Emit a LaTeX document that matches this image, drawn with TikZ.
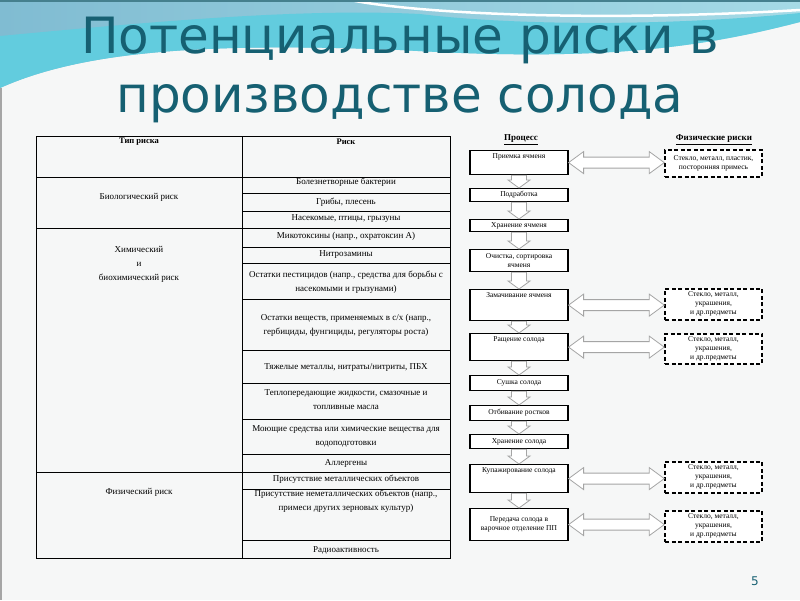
\documentclass[tikz,border=0pt]{standalone}
\usepackage{fontspec}
\setmainfont{Liberation Serif}
\newfontfamily\titlefont{DejaVu Sans}
\usetikzlibrary{calc}

\definecolor{titleteal}{RGB}{22,96,114}
\definecolor{wavedark}{RGB}{128,188,210}
\definecolor{wavelight}{RGB}{165,218,230}
\definecolor{wavecyan}{RGB}{98,204,222}
\definecolor{slidebg}{RGB}{246,247,247}
\definecolor{arrowgray}{RGB}{165,165,165}

\newcommand\tabfont{\fontsize{9}{14}\selectfont}
\newcommand\flowfont{\fontsize{7.5}{9}\selectfont}

% hollow block arrows between boxes
\newcommand\blockdown[2]{%
  \draw[downarr] ($(#1.south)+(-7.5,0)$) -- ($(#2.north)+(-7.5,-8)$) -- ($(#2.north)+(-11,-8)$)
    -- (#2.north) -- ($(#2.north)+(11,-8)$) -- ($(#2.north)+(7.5,-8)$) -- ($(#1.south)+(7.5,0)$) -- cycle;}
\newcommand\blockboth[2]{%
  \draw[sidearr] (#1.east) -- ++(15,-11) -- ++(0,5.5) -- ($(#2.west|-#1.east)+(-15,-5.5)$) -- ++(0,-5.5)
    -- (#2.west|-#1.east) -- ++(-15,11) -- ++(0,-5.5) -- ($(#1.east)+(15,5.5)$) -- ++(0,5.5) -- cycle;}

\begin{document}
\begin{tikzpicture}[
                x=1pt, y=-1pt,
                titletext/.style = {font=\titlefont\fontsize{50}{60}\selectfont, text=titleteal, inner sep=0pt},
                tabline/.style = {line width=0.9pt, black},
                cell/.style = {font=\tabfont, align=center, inner sep=0pt},
                head/.style = {font=\fontsize{9}{10}\selectfont\bfseries, inner sep=0pt},
                proc/.style = {draw, line width=1.2pt, fill=white, minimum width=98pt, anchor=north,
                               font=\flowfont, align=center, inner sep=0.5pt},
                risk/.style = {draw, line width=1.5pt, dash pattern=on 4pt off 2.5pt, fill=white,
                               minimum width=97pt, anchor=north, font=\flowfont, align=center, inner sep=0.5pt},
                toptext/.style = {anchor=north, font=\flowfont, inner sep=3pt},
                downarr/.style = {draw=arrowgray, fill=white, line width=0.8pt, line join=miter},
                sidearr/.style = {draw=arrowgray, fill=white, line width=0.8pt, line join=miter},
            ]
            \useasboundingbox (0,0) rectangle (800,600);
            % slide background
            \fill[slidebg] (0,0) rectangle (800,600);
            \shade[left color=wavedark, right color=wavelight] (0,0) -- (800,0) -- (800,22)
                .. controls (700,48) and (600,62) .. (400,50) .. controls (200,42) and (80,52) .. (0,88) -- cycle;
            \fill[wavecyan] (0,88) .. controls (80,52) and (200,42) .. (400,50) .. controls (600,62) and (700,48) .. (800,22)
                -- (800,13) .. controls (650,28) and (500,24) .. (420,14) .. controls (300,8) and (150,22) .. (0,36) -- cycle;
            \draw[white, line width=2.5pt] (350,0) .. controls (420,14) and (600,22) .. (800,10);
            \fill[titleteal!80] (0,0) rectangle (800,2);
            \draw[gray!70, line width=1.5pt] (0.75,88) -- (0.75,600);

            \node[titletext, anchor=base] (title1) at (400,53) {Потенциальные риски в};
            \node[titletext, anchor=base] (title2) at (400,112) {производстве солода};

            % table of risks
            \draw[tabline] (36,136) rectangle (450,558);
            \draw[tabline] (242,136) -- (242,558);
            \foreach \y in {177,228,472} \draw[tabline] (36,\y) -- (450,\y);
            \foreach \y in {193,211,247,263,299,350,383,419,454,489,540} \draw[tabline] (242,\y) -- (450,\y);

            \node[cell, font=\fontsize{8.5}{10}\selectfont\bfseries] (hType) at (139,142) {Тип риска};
            \node[cell, font=\fontsize{8.5}{10}\selectfont\bfseries] (hRisk) at (346,142) {Риск};
            \node[cell] (bio) at (139,197) {Биологический риск};
            \node[cell] (chem) at (139,264) {Химический\\и\\биохимический риск};
            \node[cell] (phys) at (139,492) {Физический риск};

            \node[cell] (b1) at (346,182) {Болезнетворные бактерии};
            \node[cell] (b2) at (346,202) {Грибы, плесень};
            \node[cell] (b3) at (346,219) {Насекомые, птицы, грызуны};
            \node[cell] (c1) at (346,236) {Микотоксины (напр., охратоксин А)};
            \node[cell] (c2) at (346,255) {Нитрозамины};
            \node[cell] (c3) at (346,282) {Остатки пестицидов (напр., средства для борьбы с\\насекомыми и грызунами)};
            \node[cell] (c4) at (346,325) {Остатки веществ, применяемых в с/х (напр.,\\гербициды, фунгициды, регуляторы роста)};
            \node[cell] (c5) at (346,367) {Тяжелые металлы, нитраты/нитриты, ПБХ};
            \node[cell] (c6) at (346,400) {Теплопередающие жидкости, смазочные и\\топливные масла};
            \node[cell] (c7) at (346,436) {Моющие средства или химические вещества для\\водоподготовки};
            \node[cell] (c8) at (346,463) {Аллергены};
            \node[cell] (f1) at (346,479) {Присутствие металлических объектов};
            \node[cell] (f2) at (346,501) {Присутствие неметаллических объектов (напр.,\\примеси других зерновых культур)};
            \node[cell] (f3) at (346,550) {Радиоактивность};

            % process flow
            \node[head] (hProc) at (521,140) {\underline{Процесс}};
            \node[head] (hPhys) at (714,140) {\underline{Физические риски}};

            \node[proc, minimum height=24pt, label={[toptext]north:Приемка ячменя}] (p1) at (519,150) {};
            \node[proc, minimum height=13pt] (p2) at (519,188) {Подработка};
            \node[proc, minimum height=12pt] (p3) at (519,219) {Хранение ячменя};
            \node[proc, minimum height=22pt] (p4) at (519,249) {Очистка, сортировка\\ячменя};
            \node[proc, minimum height=31pt, label={[toptext]north:Замачивание ячменя}] (p5) at (519,289) {};
            \node[proc, minimum height=27pt, label={[toptext]north:Ращение солода}] (p6) at (519,333) {};
            \node[proc, minimum height=15pt] (p7) at (519,375) {Сушка солода};
            \node[proc, minimum height=15pt] (p8) at (519,405) {Отбивание ростков};
            \node[proc, minimum height=14pt] (p9) at (519,434) {Хранение солода};
            \node[proc, minimum height=28pt, label={[toptext]north:Купажирование солода}] (p10) at (519,464) {};
            \node[proc, minimum height=32pt] (p11) at (519,508) {Передача солода в\\варочное отделение ПП};

            \node[risk, minimum height=27pt] (r1) at (713.5,149) {Стекло, металл, пластик,\\посторонняя примесь};
            \node[risk, minimum height=31pt] (r2) at (713.5,288) {Стекло, металл,\\украшения,\\и др.предметы};
            \node[risk, minimum height=30pt] (r3) at (713.5,333) {Стекло, металл,\\украшения,\\и др.предметы};
            \node[risk, minimum height=31pt] (r4) at (713.5,461) {Стекло, металл,\\украшения,\\и др.предметы};
            \node[risk, minimum height=31pt] (r5) at (713.5,510) {Стекло, металл,\\украшения,\\и др.предметы};

            \foreach \a/\b in {p1/p2,p2/p3,p3/p4,p4/p5,p5/p6,p6/p7,p7/p8,p8/p9,p9/p10,p10/p11}
                \blockdown{\a}{\b};
            \foreach \a/\b in {p1/r1,p5/r2,p6/r3,p10/r4,p11/r5}
                \blockboth{\a}{\b};

            \node[font=\titlefont\fontsize{12}{12}\selectfont, text=titleteal] (pageno) at (755,581) {5};
        \end{tikzpicture}
\end{document}
